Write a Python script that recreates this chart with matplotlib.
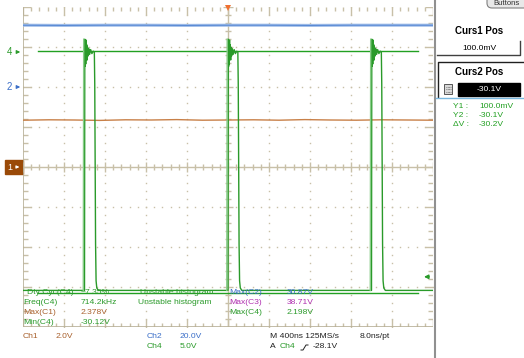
import matplotlib.pyplot as plt
import numpy as np
from matplotlib.collections import LineCollection
from matplotlib.patches import Rectangle, FancyBboxPatch
from matplotlib.transforms import blended_transform_factory

plt.rcParams['font.family'] = ['Liberation Sans', 'DejaVu Sans']

# scope setup
time_per_div = 400          # ns / div
ch1_scale, ch1_offset = 2.0, 0.0     # V/div, div
ch2_scale, ch2_offset = 20.0, 2.0
ch4_scale, ch4_offset = 5.0, 2.875

# Ch1 (brown): flat near 2.35 V
ch1_t = [-2000, -1750, -1500, -1250, -1000, -750, -500, -250, 0, 250, 500, 750, 1000, 1250, 1500, 1750, 2000]
ch1_v = [2.34, 2.36, 2.35, 2.33, 2.36, 2.35, 2.37, 2.34, 2.35, 2.36, 2.34, 2.37, 2.35, 2.34, 2.36, 2.35, 2.34]

# Ch2 (blue): flat near 30.9 V
ch2_t = [-2000, -1600, -1200, -800, -400, 0, 400, 800, 1200, 1600, 2000]
ch2_v = [30.9, 30.8, 30.9, 30.9, 30.8, 30.9, 30.9, 30.8, 30.9, 30.9, 30.9]

# Ch4 (green): pulse train, rising edges at these times (ns)
ch4_rise = [-1400, 0, 1400]
pulse_dt = [0, 3, 6, 9, 12, 15, 18, 22, 26, 30, 35, 42, 50, 60, 72, 85, 96, 100, 104, 108, 113, 120, 135]
pulse_v = [-29.8, 1.6, -1.8, 1.3, -1.5, 1.5, -0.9, 0.9, -1.0, 0.6, -0.5, 0.4, -0.3, 0.3, -0.2, 0.1, 0.0,
           -4.0, -14.0, -24.0, -28.6, -29.5, -29.8]
ch4_low = -29.8

cursor_v = [0.1, -30.1]       # Curs1, Curs2 on Ch4
cursor_span = [-1850, 1850]
trig_level = -28.1

grat = '#c8c0a8'
green = '#2a9a2a'
lgreen = '#88cc88'
blue = '#3a6ec8'
brown = '#a8602c'
magenta = '#b030b0'

fig = plt.figure(figsize=(5.24, 3.58), dpi=100)
ax = fig.add_axes([23 / 524, 1 - 327 / 358, 410 / 524, 320 / 358])
ax.set_xlim(-2000, 2000)
ax.set_ylim(-4, 4)
ax.axis('off')

# graticule dots
for xd in range(-4, 5):
    if xd == 0:
        continue
    ys = np.arange(-4, 4.01, 0.2)
    ax.plot([xd * time_per_div] * len(ys), ys, ls='none', marker='s', ms=1.0, mew=0, color=grat)
for yd in range(-3, 4):
    if yd == 0:
        continue
    xs = np.arange(-2000, 2001, 80)
    ax.plot(xs, [yd] * len(xs), ls='none', marker='s', ms=1.0, mew=0, color=grat)

# centre cross and edges
px_t = 4000 / 410   # ns per pixel
px_d = 8 / 320      # div per pixel
segs = []
for k, x in enumerate(np.arange(-2000, 2001, 80)):
    big = k % 5 == 0
    h = (5 if big else 3) * px_d
    segs.append([(x, -h), (x, h)])
    e = (8 if big else 4) * px_d
    segs.append([(x, -4), (x, -4 + e)])
    segs.append([(x, 4), (x, 4 - e)])
for k, y in enumerate(np.arange(-4, 4.01, 0.2)):
    big = k % 5 == 0
    w = (5 if big else 3) * px_t
    segs.append([(-w, y), (w, y)])
    e = (8 if big else 5) * px_t
    segs.append([(-2000, y), (-2000 + e, y)])
    segs.append([(2000, y), (2000 - e, y)])
ax.add_collection(LineCollection(segs, colors=grat, linewidths=1.0))
ax.axhline(0, color=grat, lw=1.0)
ax.axvline(0, color=grat, lw=1.0)
ax.axvline(-2000, color='#b8b098', lw=1.2)
ax.axhline(-4, color='#b8b098', lw=1.2)

# Ch2 trace
ch2_d = np.array(ch2_v) / ch2_scale + ch2_offset
ax.plot(ch2_t, ch2_d, color='#9dbbe8', lw=2.2)
ax.plot(ch2_t, ch2_d, color='#4a7fd0', lw=0.6)

# Ch1 trace
ax.plot(ch1_t, np.array(ch1_v) / ch1_scale + ch1_offset, color='#c88048', lw=1.0)

# cursors
for cv in cursor_v:
    ax.plot(cursor_span, [cv / ch4_scale + ch4_offset] * 2, color='#22a022', lw=1.0)

# Ch4 trace
t4 = [-2000]
v4 = [ch4_low]
for r in ch4_rise:
    t4 += [r - 1] + [r + d for d in pulse_dt]
    v4 += [ch4_low] + pulse_v
t4.append(2000)
v4.append(ch4_low)
t4 = np.array(t4)
v4d = np.array(v4) / ch4_scale + ch4_offset
ax.plot(t4, v4d, color=green, lw=1.0)
for r in ch4_rise:
    ax.plot([r - 12, r - 8], [ch4_low / ch4_scale + ch4_offset, pulse_v[1] / ch4_scale + ch4_offset],
            color=lgreen, lw=1.0)

# channel markers on the left
lt = blended_transform_factory(ax.transAxes, ax.transData)
ax.text(-0.033, ch4_offset, '4', color=green, fontsize=7, ha='center', va='center', transform=lt)
ax.annotate('', xy=(0, ch4_offset), xytext=(-0.02, ch4_offset), xycoords=lt, textcoords=lt,
            arrowprops=dict(arrowstyle='-|>', color=green, lw=0.8, mutation_scale=5))
ax.text(-0.033, ch2_offset, '2', color=blue, fontsize=7, ha='center', va='center', transform=lt)
ax.annotate('', xy=(0, ch2_offset), xytext=(-0.02, ch2_offset), xycoords=lt, textcoords=lt,
            arrowprops=dict(arrowstyle='-|>', color=blue, lw=0.8, mutation_scale=5))
ax.add_patch(Rectangle((-0.044, ch1_offset - 0.17), 0.044, 0.34, transform=lt, clip_on=False,
                       color='#9a4a08'))
ax.text(-0.033, ch1_offset, '1', color='white', fontsize=6.5, ha='center', va='center', transform=lt)
ax.annotate('', xy=(-0.002, ch1_offset), xytext=(-0.022, ch1_offset), xycoords=lt, textcoords=lt,
            arrowprops=dict(arrowstyle='-|>', color='white', lw=0.8, mutation_scale=4))

# trigger level arrow (right) and trigger position (top)
ax.annotate('', xy=(1885, trig_level / ch4_scale + ch4_offset), xytext=(1990, trig_level / ch4_scale + ch4_offset),
            arrowprops=dict(arrowstyle='-|>', color=green, lw=1.0, mutation_scale=6), annotation_clip=False)
ax.plot([0], [3.97], marker='v', ms=5, color='#f07030', mew=0, clip_on=False)

# overlay in pixels for the on-screen text
ov = fig.add_axes([0, 0, 1, 1])
ov.set_xlim(0, 524)
ov.set_ylim(358, 0)
ov.axis('off')
ov.patch.set_alpha(0)

fs = 6.1
rows = [
    (292, [(27, 'Dty Cyc(C4)', green), (81, '~7.35%', green), (140, 'Unstable histogram', green),
           (229, 'Max(C2)', blue), (287, '30.87V', blue)]),
    (303, [(23, 'Freq(C4)', green), (81, '714.2kHz', green), (138, 'Unstable histogram', green),
           (229, 'Max(C3)', magenta), (287, '38.71V', magenta)]),
    (313, [(23, 'Max(C1)', brown), (81, '2.378V', brown), (229, 'Max(C4)', green), (287, '2.198V', green)]),
    (323, [(23, 'Min(C4)', green), (81, '-30.12V', green)]),
    (337, [(23, 'Ch1', brown), (56, '2.0V', brown), (147, 'Ch2', blue), (180, '20.0V', blue),
           (270, 'M 400ns 125MS/s', '#202020'), (360, '8.0ns/pt', '#202020')]),
    (347, [(147, 'Ch4', green), (180, '5.0V', green), (270, 'A', '#202020'), (280, 'Ch4', green),
           (313, '-28.1V', '#202020')]),
]
for y, items in rows:
    for x, s, c in items:
        ov.text(x, y, s, color=c, fontsize=fs, ha='left', va='center')
ov.plot([301, 303, 306, 308], [350, 350, 345, 345], color='#202020', lw=0.7)

# right-hand menu
ov.plot([435, 435], [0, 358], color='#909090', lw=1.5)
ov.add_patch(FancyBboxPatch((487, -6), 42, 14, boxstyle='round,pad=0,rounding_size=5',
                            fc='#e8e8e8', ec='#808080', lw=0.8))
ov.text(507, 3.5, 'Buttons', fontsize=5.5, ha='center', va='center', color='#303030')
ov.text(479, 31, 'Curs1 Pos', fontsize=7, fontweight='bold', ha='center', va='center')
ov.plot([437, 520, 520], [55, 55, 41], color='#404040', lw=1.0)
ov.text(479, 48, '100.0mV', fontsize=fs, ha='center', va='center')
ov.plot([524, 438, 438], [62, 62, 97], color='#202020', lw=1.0)
ov.text(479, 72, 'Curs2 Pos', fontsize=7, fontweight='bold', ha='center', va='center')
ov.add_patch(Rectangle((458, 83), 62, 13, color='black'))
ov.text(477, 89.5, '-30.1V', fontsize=fs, color='white', ha='left', va='center')
ov.add_patch(Rectangle((444, 84), 8, 10, fc='#d8d8d8', ec='#404040', lw=0.6))
for gy in (86.5, 89, 91.5):
    ov.plot([445.5, 450.5], [gy, gy], color='#404040', lw=0.5, ls=(0, (1, 1)))
ov.plot([436, 524], [98, 98], color='#7ab8e0', lw=1.0)
for y, lab, val in [(107, 'Y1 :', '100.0mV'), (115.5, 'Y2 :', '-30.1V'), (124, '\u0394V :', '-30.2V')]:
    ov.text(453, y, lab, fontsize=fs, color='#22a022', ha='left', va='center')
    ov.text(479, y, val, fontsize=fs, color='#22a022', ha='left', va='center')

fig.savefig('out.png', dpi=100)
